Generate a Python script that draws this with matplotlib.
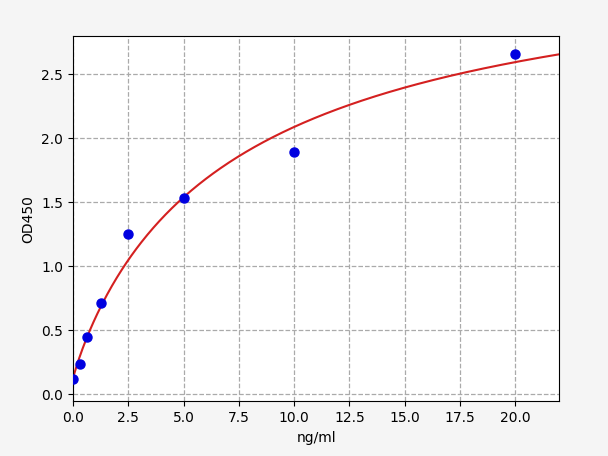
import numpy as np
import matplotlib
matplotlib.use('Agg')
import matplotlib.pyplot as plt

# standards
conc = [0, 0.3125, 0.625, 1.25, 2.5, 5, 10, 20]
od = [0.12, 0.24, 0.45, 0.71, 1.25, 1.53, 1.89, 2.66]

# 4PL fit parameters (a, b, c, d)
a, b, c, d = 0.12, 0.92, 7.5, 3.6

xs = np.linspace(0, 22, 400)
fit = d + (a - d) / (1 + (xs / c) ** b)

fig = plt.figure(figsize=(6.08, 4.561), dpi=100, facecolor='#f5f5f5')
ax = fig.add_axes([0.12, 0.12, 0.8, 0.8])
ax.grid(True, ls='--', color='#aaaaaa', lw=0.9)
ax.set_axisbelow(True)
ax.plot(xs, fit, color='#d42020', lw=1.5, zorder=2)
ax.plot(conc, od, 'o', color='#0000e0', ms=6.5, zorder=3)
ax.set_xlim(0, 22)
ax.set_ylim(-0.055, 2.797)
ax.set_xticks(np.arange(0, 22.5, 2.5))
ax.set_yticks(np.arange(0, 2.6, 0.5))
ax.set_xlabel('ng/ml')
ax.set_ylabel('OD450')
fig.savefig('out.png', dpi=100, facecolor=fig.get_facecolor())
